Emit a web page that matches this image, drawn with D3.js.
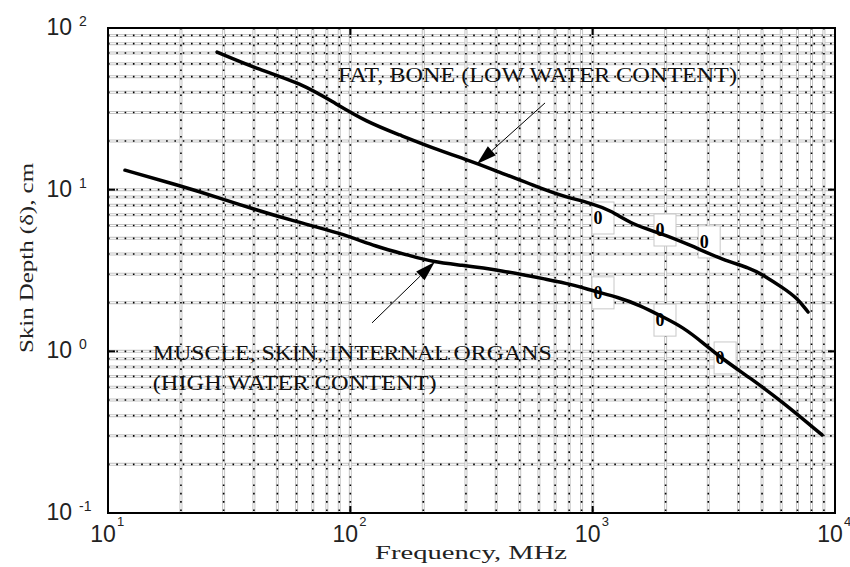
<!DOCTYPE html>
<html>
<head>
<meta charset="utf-8">
<script src="https://cdn.jsdelivr.net/npm/d3@7/dist/d3.min.js"></script>
<style>
  html, body { margin: 0; padding: 0; background: #fff; }
  svg { display: block; }
</style>
</head>
<body>
<svg id="chart" width="850" height="567"></svg>
<script>
// ---------------- DATA ----------------
// Fat, bone (low water content): frequency (MHz), skin depth (cm)
const fatFreq  = [28.2, 42.4, 62.0, 84.8, 117, 160, 219, 303, 366, 667, 806, 975, 1179, 1467, 1896, 2522, 3452, 4461, 5047, 6103, 6970, 7740];
const fatDepth = [71.0, 55.0, 45.7, 34.9, 26.2, 21.8, 18.1, 15.3, 13.8, 9.67, 8.88, 8.27, 7.49, 6.05, 5.40, 4.55, 3.67, 3.28, 2.97, 2.47, 2.14, 1.75];

// Muscle, skin, internal organs (high water content)
const muscleFreq  = [11.75, 19.3, 29.8, 39.7, 60.3, 90.7, 128.8, 173, 219, 283, 415, 667, 806, 1042, 1260, 1568, 1951, 2359, 2853, 3354, 4461, 5932, 8843];
const muscleDepth = [13.2, 10.7, 8.76, 7.59, 6.31, 5.40, 4.42, 3.94, 3.57, 3.42, 3.18, 2.76, 2.61, 2.33, 2.17, 1.93, 1.63, 1.41, 1.13, 0.92, 0.684, 0.50, 0.304];

// Measured points shown with "0" markers
const markerFreq  = [1052, 1896, 2885, 1052, 1896, 3357];
const markerDepth = [6.68, 5.63, 4.75, 2.30, 1.56, 0.91];
const markerLabel = ["0", "0", "0", "0", "0", "0"];

// Tick labels (exponents of 10)
const xTickExp = [1, 2, 3, 4];
const yTickExp = [2, 1, 0, -1];

// Annotations (data coordinates)
const annoText  = ["FAT, BONE (LOW WATER CONTENT)", "MUSCLE, SKIN, INTERNAL ORGANS", "(HIGH WATER CONTENT)"];
const annoFreq  = [88.9, 15.3, 15.3];
const annoDepth = [46.4, 0.884, 0.577];
const annoLen   = [399, 399, 284];

const arrowTailFreq  = [636, 122.9];
const arrowTailDepth = [34.4, 1.50];
const arrowTipFreq   = [333, 223];
const arrowTipDepth  = [14.4, 3.57];

const xTitle = "Frequency, MHz";
const yTitle = "Skin Depth (δ), cm";

// ---------------- CHART ----------------
const svg = d3.select("#chart");
const L = 108, R = 835, T = 28, B = 513;

const x = d3.scaleLog().domain([10, 1e4]).range([L, R]);
const y = d3.scaleLog().domain([0.1, 100]).range([B, T]);

// grid values
const xGrid = [], yGrid = [];
[10, 100, 1000].forEach(d => { for (let k = 1; k <= 9; k++) { if (!(d === 10 && k === 1)) xGrid.push(k * d); } });
[0.1, 1, 10].forEach(d => { for (let k = 1; k <= 9; k++) { if (!(d === 0.1 && k === 1)) yGrid.push(k * d); } });

const grid = svg.append("g");
function gridLines(sel, vals, vertical) {
  const g = sel.append("g");
  const attrs = (s) => vertical
    ? s.attr("x1", d => x(d)).attr("x2", d => x(d)).attr("y1", T).attr("y2", B)
    : s.attr("y1", d => y(d)).attr("y2", d => y(d)).attr("x1", L).attr("x2", R);
  attrs(g.selectAll(".a").data(vals).join("line")).attr("stroke", "#c4c4c4").attr("stroke-width", 3);
  attrs(g.selectAll(".b").data(vals).join("line").attr("class", "b")).attr("stroke", "#ffffff").attr("stroke-width", 1);
  attrs(g.selectAll(".c").data(vals).join("line").attr("class", "c")).attr("stroke", "#000").attr("stroke-width", 1.6)
    .attr("stroke-dasharray", "1.6,6.7");
}
gridLines(grid, yGrid, false);
gridLines(grid, xGrid, true);

// marker boxes (under curves)
const markers = markerFreq.map((f, i) => ({ f, d: markerDepth[i], t: markerLabel[i] }));
svg.append("g").selectAll("rect").data(markers).join("rect")
  .attr("x", d => x(d.f) - 6).attr("y", d => y(d.d) - 16)
  .attr("width", 22).attr("height", 32)
  .attr("fill", "#fff").attr("stroke", "#c8c8c8").attr("stroke-width", 1);

// curves
const line = d3.line().x(d => x(d[0])).y(d => y(d[1])).curve(d3.curveBasis);
const fat = fatFreq.map((f, i) => [f, fatDepth[i]]);
const muscle = muscleFreq.map((f, i) => [f, muscleDepth[i]]);
svg.append("path").attr("d", line(fat)).attr("fill", "none").attr("stroke", "#000").attr("stroke-width", 3.5).attr("stroke-linecap", "round");
svg.append("path").attr("d", line(muscle)).attr("fill", "none").attr("stroke", "#000").attr("stroke-width", 3.5).attr("stroke-linecap", "round");

// marker labels
svg.append("g").selectAll("text").data(markers).join("text")
  .attr("x", d => x(d.f)).attr("y", d => y(d.d) + 6)
  .attr("text-anchor", "middle")
  .attr("font-family", "Liberation Serif, Times New Roman, serif")
  .attr("font-weight", "bold").attr("font-size", 18)
  .text(d => d.t);

// frame
svg.append("rect").attr("x", L).attr("y", T).attr("width", R - L).attr("height", B - T)
  .attr("fill", "none").attr("stroke", "#000").attr("stroke-width", 2);

// major ticks inward
const tk = svg.append("g").attr("stroke", "#000").attr("stroke-width", 2);
[100, 1000].forEach(v => {
  tk.append("line").attr("x1", x(v)).attr("x2", x(v)).attr("y1", B).attr("y2", B - 7);
  tk.append("line").attr("x1", x(v)).attr("x2", x(v)).attr("y1", T).attr("y2", T + 7);
});
[1, 10].forEach(v => {
  tk.append("line").attr("y1", y(v)).attr("y2", y(v)).attr("x1", L).attr("x2", L + 7);
  tk.append("line").attr("y1", y(v)).attr("y2", y(v)).attr("x1", R).attr("x2", R - 7);
});

// tick labels
const sans = "Liberation Sans, Arial, sans-serif";
const yl = svg.append("g").attr("font-family", sans).attr("fill", "#222");
yTickExp.forEach(e => {
  const yy = y(Math.pow(10, e));
  yl.append("text").attr("x", L - 36).attr("y", yy + 7).attr("text-anchor", "end").attr("font-size", 23).text("10");
  yl.append("text").attr("x", L - 29).attr("y", yy - 2).attr("font-size", 14).text(String(e));
});
const xl = svg.append("g").attr("font-family", sans).attr("fill", "#222");
xTickExp.forEach(e => {
  const xx = x(Math.pow(10, e));
  xl.append("text").attr("x", xx - 5).attr("y", B + 29).attr("text-anchor", "middle").attr("font-size", 23).text("10");
  xl.append("text").attr("x", xx + 9).attr("y", B + 13).attr("font-size", 13).text(String(e));
});

// axis titles
const serif = "Liberation Serif, Times New Roman, serif";
svg.append("text").attr("x", 471).attr("y", 559).attr("text-anchor", "middle")
  .attr("font-family", serif).attr("font-size", 18).attr("fill", "#222")
  .attr("textLength", 192).attr("lengthAdjust", "spacingAndGlyphs").text(xTitle);
svg.append("text").attr("transform", "translate(33,258) rotate(-90)").attr("text-anchor", "middle")
  .attr("font-family", serif).attr("font-size", 18).attr("fill", "#222")
  .attr("textLength", 190).attr("lengthAdjust", "spacingAndGlyphs").text(yTitle);

// annotations
annoText.forEach((t, i) => {
  svg.append("text").attr("x", x(annoFreq[i])).attr("y", y(annoDepth[i]))
    .attr("font-family", serif).attr("font-size", 22).attr("fill", "#111")
    .attr("textLength", annoLen[i]).attr("lengthAdjust", "spacingAndGlyphs").text(t);
});

// arrows
arrowTailFreq.forEach((f, i) => {
  const x0 = x(f), y0 = y(arrowTailDepth[i]);
  const x1 = x(arrowTipFreq[i]), y1 = y(arrowTipDepth[i]);
  const dx = x1 - x0, dy = y1 - y0, len = Math.hypot(dx, dy);
  const ux = dx / len, uy = dy / len;
  const hl = 20, hw = 6;
  const bx = x1 - ux * hl, by = y1 - uy * hl;
  svg.append("line").attr("x1", x0).attr("y1", y0).attr("x2", bx).attr("y2", by)
    .attr("stroke", "#000").attr("stroke-width", 1);
  svg.append("path")
    .attr("d", `M${x1},${y1}L${bx - uy * hw},${by + ux * hw}L${bx + uy * hw},${by - ux * hw}Z`)
    .attr("fill", "#000");
});
</script>
</body>
</html>
